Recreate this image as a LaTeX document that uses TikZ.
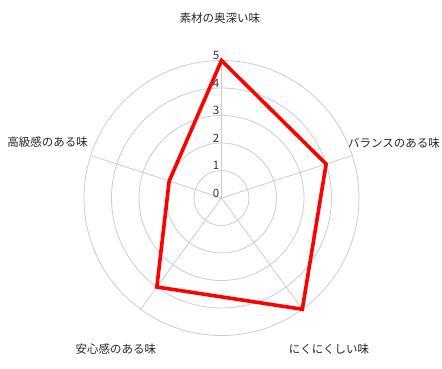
\documentclass[tikz,border=0pt]{standalone}
\usepackage{fontspec}
\setmainfont{Noto Sans CJK JP}
\usetikzlibrary{positioning}

\begin{document}
\begin{tikzpicture}[x = 1pt, y = 1pt,
		ring/.style = {draw = black!20, line width = 0.8pt},
		axis label/.style = {font = \fontsize{11.5}{12}\selectfont, text = black!85, inner sep = 0pt},
		tick label/.style = {font = \fontsize{11.5}{12}\selectfont, text = black!80, inner sep = 0pt},
		score/.style = {draw = red, line width = 3.6pt}]
	\useasboundingbox (-221.5, -170) rectangle (220.5, 198);
	\foreach \r in {1, ..., 5} {
		\pgfmathsetmacro{\rad}{27.5 * \r}
		\draw [ring] (0, 0) circle (\rad pt);
	}
	\foreach \a in {90, 18, -54, -126, 162}
		\draw [ring] (0, 0) -- (\a : 137.5pt);
	\foreach \v in {0, ..., 5}
		\node [tick label] (tick\v) at (-5.5, 27.5 * \v + 5) {\v};
	\coordinate (s1) at (90 : 137.5pt);
	\coordinate (s2) at (18 : 110pt);
	\coordinate (s3) at (-54 : 137.5pt);
	\coordinate (s4) at (-126 : 110pt);
	\coordinate (s5) at (162 : 55pt);
	\draw [score] (s1) -- (s2) -- (s3) -- (s4) -- (s5) -- cycle;
	\node [axis label] (depth) at (-1.5, 180) {素材の奥深い味};
	\node [axis label, anchor = west] (balance) at (126.5, 55) {バランスのある味};
	\node [axis label, anchor = east] (luxury) at (-133.5, 56) {高級感のある味};
	\node [axis label] (comfort) at (-105.5, -151) {安心感のある味};
	\node [axis label] (meaty) at (107.5, -151) {にくにくしい味};
\end{tikzpicture}
\end{document}
